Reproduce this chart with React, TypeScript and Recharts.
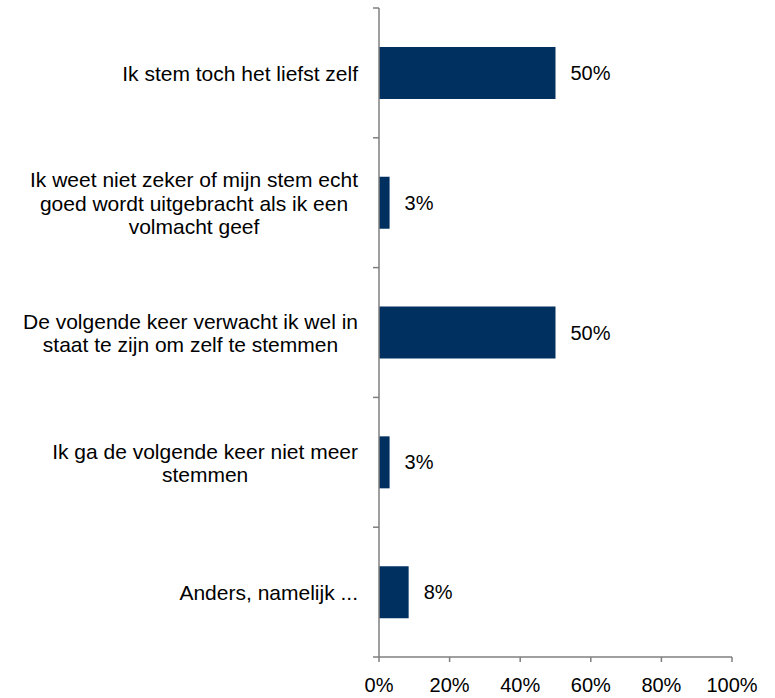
import React from "react";
import { BarChart, Bar, XAxis, YAxis, LabelList } from "recharts";

const categories = [
  "Ik stem toch het liefst zelf",
  "Ik weet niet zeker of mijn stem echt\ngoed wordt uitgebracht als ik een\nvolmacht geef",
  "De volgende keer verwacht ik wel in\nstaat te zijn om zelf te stemmen",
  "Ik ga de volgende keer niet meer\nstemmen",
  "Anders, namelijk ...",
];
const values = [50, 3, 50, 3, 8.4];
const xTicks = [0, 20, 40, 60, 80, 100];

const data = categories.map((c, i) => ({ name: c, value: values[i] }));

const W = 775;
const H = 698;
const M = { top: 8, right: 43, left: 0, bottom: 0 };
const Y_W = 379;
const X_H = 41;
const PLOT_H = H - M.top - M.bottom - X_H;
const BAND = PLOT_H / categories.length;
const FONT = "'Liberation Sans', Arial, sans-serif";
const CAT_FS = 21;
const LINE_H = 23.5;
const AXIS_COLOR = "#7f7f7f";

let ctx: CanvasRenderingContext2D | null = null;
function measure(t: string): number {
  if (!ctx) {
    const c = document.createElement("canvas");
    ctx = c.getContext("2d");
  }
  if (!ctx) return t.length * CAT_FS * 0.5;
  ctx.font = `${CAT_FS}px 'Liberation Sans', Arial, sans-serif`;
  return ctx.measureText(t).width;
}

const CatTick = (props: any) => {
  const { x, y, payload, index } = props;
  const lines = String(payload.value).split("\n");
  const maxW = Math.max(...lines.map(measure));
  const right = x - 21;
  const cx = right - maxW / 2;
  const n = lines.length;
  const axisX = x;
  return (
    <g>
      {lines.map((l, i) => (
        <text
          key={i}
          x={cx}
          y={y + 8 + (i - (n - 1) / 2) * LINE_H}
          textAnchor="middle"
          fontSize={CAT_FS}
          fontFamily={FONT}
          fill="#000"
        >
          {l}
        </text>
      ))}
      <line x1={axisX - 6} x2={axisX} y1={y - BAND / 2} y2={y - BAND / 2} stroke={AXIS_COLOR} strokeWidth={1.5} />
      {index === categories.length - 1 && (
        <line x1={axisX - 6} x2={axisX} y1={y + BAND / 2} y2={y + BAND / 2} stroke={AXIS_COLOR} strokeWidth={1.5} />
      )}
    </g>
  );
};

export default function App() {
  return (
    <div style={{ position: "absolute", left: 0, top: 0, width: W, height: H, background: "#fff" }}>
      <BarChart
        width={W}
        height={H}
        data={data}
        layout="vertical"
        margin={M}
        barCategoryGap="30%"
      >
        <XAxis
          type="number"
          domain={[0, 100]}
          ticks={xTicks}
          tickFormatter={(v: number) => `${v}%`}
          height={X_H}
          tickSize={5}
          tickMargin={16}
          axisLine={{ stroke: AXIS_COLOR, strokeWidth: 1.5 }}
          tickLine={{ stroke: AXIS_COLOR, strokeWidth: 1.5 }}
          tick={{ fill: "#000", fontSize: 20, fontFamily: FONT }}
          interval={0}
        />
        <YAxis
          type="category"
          dataKey="name"
          width={Y_W}
          tick={<CatTick />}
          tickLine={false}
          tickSize={0}
          tickMargin={0}
          axisLine={{ stroke: AXIS_COLOR, strokeWidth: 1.5 }}
          interval={0}
        />
        <Bar dataKey="value" fill="#003060" isAnimationActive={false}>
          <LabelList
            dataKey="value"
            position="right"
            offset={15}
            formatter={(v: number) => `${Math.round(v)}%`}
            style={{ fill: "#000", fontSize: 20, fontFamily: FONT }}
          />
        </Bar>
      </BarChart>
    </div>
  );
}
